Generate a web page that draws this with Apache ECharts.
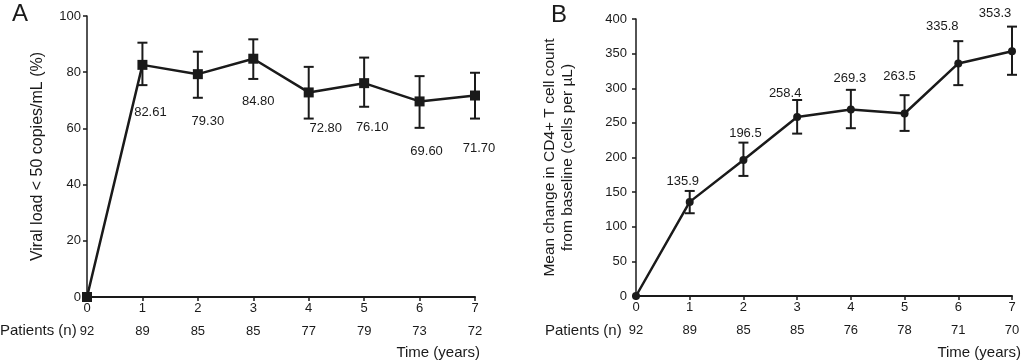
<!DOCTYPE html>
<html><head><meta charset="utf-8">
<script src="https://cdn.jsdelivr.net/npm/echarts@6/dist/echarts.min.js"></script>
<style>html,body{margin:0;padding:0;background:#fff}#c{width:1024px;height:362px}</style>
</head><body><div id="c"></div>
<script>
// ---- data ----
const years = [0, 1, 2, 3, 4, 5, 6, 7];
const viralPct = [0, 82.61, 79.30, 84.80, 72.80, 76.10, 69.60, 71.70];
const viralLow = [0, 75.4, 70.9, 77.6, 63.5, 67.7, 60.2, 63.5];
const viralHigh = [0, 90.5, 87.3, 91.7, 81.9, 85.2, 78.6, 79.8];
const viralLabels = ['', '82.61', '79.30', '84.80', '72.80', '76.10', '69.60', '71.70'];
const patientsA = [92, 89, 85, 85, 77, 79, 73, 72];

const cd4Change = [0, 135.9, 196.5, 258.4, 269.3, 263.5, 335.8, 353.3];
const cd4Low = [0, 119.5, 173.4, 234.5, 242.3, 238.4, 304.5, 319.4];
const cd4High = [0, 151.7, 221.5, 283, 297.7, 290, 368, 389];
const cd4Labels = ['', '135.9', '196.5', '258.4', '269.3', '263.5', '335.8', '353.3'];
const patientsB = [92, 89, 85, 85, 76, 78, 71, 70];

const yTicksA = [0, 20, 40, 60, 80, 100];
const yTicksB = [0, 50, 100, 150, 200, 250, 300, 350, 400];

// ---- styles (label offsets in px) ----
const labelOffA = [[0,0],[8,48],[10,47],[5,43],[17,36],[8,44],[7,50],[4,53]];
const labelOffB = [[0,0],[-7,-20],[2,-27],[-12,-24],[-1,-31],[-5,-37],[-16,-37],[-17,-38]];

const INK = '#1a1a1a';
const FONT = 'Liberation Sans, Arial, sans-serif';

const chart = echarts.init(document.getElementById('c'), null, {renderer: 'canvas'});

function mainX(grid) {
  return {
    type: 'value', gridIndex: grid, min: 0, max: 7, interval: 1,
    axisLine: {show: true, onZero: false, lineStyle: {color: INK, width: 2}},
    axisTick: {show: true, length: 4, lineStyle: {color: INK, width: 1.5}},
    axisLabel: {color: INK, fontSize: 13, fontFamily: FONT, margin: 5},
    splitLine: {show: false}
  };
}
function patX(grid, pats) {
  return {
    type: 'value', gridIndex: grid, min: 0, max: 7, interval: 1,
    position: 'bottom', offset: 34,
    axisLine: {show: false}, axisTick: {show: false}, splitLine: {show: false},
    axisLabel: {color: INK, fontSize: 13, fontFamily: FONT, margin: 0, verticalAlign: 'middle',
      formatter: v => String(pats[v])}
  };
}
function yAx(grid, ticks, name, gap, fs, margin) {
  return {
    type: 'value', gridIndex: grid, min: ticks[0], max: ticks[ticks.length - 1],
    interval: ticks[1] - ticks[0],
    axisLine: {show: true, lineStyle: {color: INK, width: 1.5}},
    axisTick: {show: true, length: 4, lineStyle: {color: INK, width: 1.5}},
    axisLabel: {color: INK, fontSize: 13, fontFamily: FONT, margin: margin},
    splitLine: {show: false},
    name: name, nameLocation: 'middle', nameGap: gap, nameRotate: 90,
    nameTextStyle: {color: INK, fontSize: fs, fontFamily: FONT, lineHeight: 18}
  };
}
function errSeries(xi, yi, lo, hi) {
  return {
    type: 'custom', xAxisIndex: xi, yAxisIndex: yi, silent: true, z: 3,
    data: years.map((x, i) => [x, lo[i], hi[i]]).filter((d, i) => i > 0),
    renderItem: function (params, api) {
      const x = api.value(0);
      const a = api.coord([x, api.value(1)]);
      const b = api.coord([x, api.value(2)]);
      const w = 5;
      const st = {stroke: INK, lineWidth: 2};
      return {type: 'group', children: [
        {type: 'line', shape: {x1: a[0], y1: a[1], x2: b[0], y2: b[1]}, style: st},
        {type: 'line', shape: {x1: a[0] - w, y1: a[1], x2: a[0] + w, y2: a[1]}, style: st},
        {type: 'line', shape: {x1: b[0] - w, y1: b[1], x2: b[0] + w, y2: b[1]}, style: st}
      ]};
    }
  };
}
function lineSeries(xi, yi, vals, labels, offs, symbol, size) {
  return {
    type: 'line', xAxisIndex: xi, yAxisIndex: yi, z: 4,
    symbol: symbol, symbolSize: size, showAllSymbol: true,
    lineStyle: {color: INK, width: 2.5}, itemStyle: {color: INK},
    data: years.map((x, i) => ({
      value: [x, vals[i]],
      label: {show: labels[i] !== '', position: 'inside', offset: offs[i],
        formatter: labels[i], color: INK, fontSize: 13, fontFamily: FONT}
    }))
  };
}

const txt = (t) => ({text: t, fontSize: 15, fontFamily: FONT, fill: INK});

chart.setOption({
  animation: false,
  backgroundColor: '#fff',
  grid: [
    {left: 87, right: 549, top: 16, bottom: 65, containLabel: false, outerBoundsMode: 'none'},
    {left: 636, right: 12, top: 19, bottom: 66, containLabel: false, outerBoundsMode: 'none'}
  ],
  xAxis: [mainX(0), patX(0, patientsA), mainX(1), patX(1, patientsB)],
  yAxis: [
    yAx(0, yTicksA, 'Viral load < 50 copies/mL (%)', 40, 16, 6),
    yAx(1, yTicksB, 'Mean change in CD4+ T cell count\nfrom baseline (cells per µL)', 59, 15.5, 9)
  ],
  graphic: [
    {type: 'text', left: 12, top: 2, style: {text: 'A', fontSize: 24, fontFamily: FONT, fill: INK}},
    {type: 'text', left: 551, top: 3, style: {text: 'B', fontSize: 24, fontFamily: FONT, fill: INK}},
    {type: 'text', left: 0, top: 323, style: txt('Patients (n)')},
    {type: 'text', left: 545, top: 323, style: txt('Patients (n)')},
    {type: 'text', right: 544, top: 345, style: txt('Time (years)')},
    {type: 'text', right: 3, top: 345, style: txt('Time (years)')}
  ],
  series: [
    errSeries(0, 0, viralLow, viralHigh),
    lineSeries(0, 0, viralPct, viralLabels, labelOffA, 'rect', 10),
    errSeries(2, 1, cd4Low, cd4High),
    lineSeries(2, 1, cd4Change, cd4Labels, labelOffB, 'circle', 8)
  ]
});
</script></body></html>
